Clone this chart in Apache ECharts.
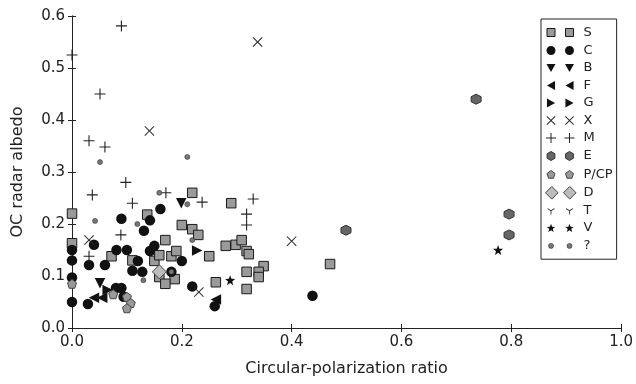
<!DOCTYPE html>
<html><head><meta charset="utf-8">
<script src="https://cdn.jsdelivr.net/npm/echarts@6/dist/echarts.min.js"></script>
<style>html,body{margin:0;padding:0;background:#fff}#c{width:636px;height:384px}</style>
</head><body><div id="c"></div>
<script>
// ---- data ----
const seriesNames = ['S','C','B','F','G','X','M','E','P/CP','D','T','V','?'];
const xTicks = [0, 0.2, 0.4, 0.6, 0.8, 1.0];
const yTicks = [0, 0.1, 0.2, 0.3, 0.4, 0.5, 0.6];

const dataS = [[0.0,0.22],[0.0,0.163],[0.137,0.218],[0.219,0.26],[0.29,0.24],[0.20,0.198],[0.219,0.19],
  [0.23,0.179],[0.17,0.169],[0.072,0.138],[0.11,0.13],[0.15,0.129],[0.159,0.140],[0.181,0.138],[0.19,0.148],
  [0.159,0.098],[0.187,0.094],[0.170,0.085],[0.25,0.138],[0.28,0.158],[0.298,0.160],[0.309,0.169],
  [0.318,0.148],[0.322,0.142],[0.349,0.119],[0.340,0.108],[0.340,0.098],[0.318,0.108],[0.262,0.088],
  [0.318,0.075],[0.47,0.123]];
const dataC = [[0.0,0.15],[0.0,0.13],[0.0,0.097],[0.0,0.05],[0.09,0.21],[0.142,0.207],[0.161,0.229],
  [0.131,0.187],[0.04,0.16],[0.081,0.15],[0.10,0.15],[0.142,0.148],[0.15,0.158],[0.031,0.121],[0.06,0.121],
  [0.12,0.129],[0.11,0.11],[0.128,0.108],[0.20,0.129],[0.181,0.108],[0.219,0.08],[0.08,0.077],[0.09,0.077],
  [0.094,0.06],[0.029,0.046],[0.26,0.042],[0.438,0.062]];
const dataB = [[0.199,0.24],[0.051,0.086]];
const dataF = [[0.04,0.058],[0.055,0.058],[0.262,0.055]];
const dataG = [[0.228,0.149],[0.065,0.073]];
const dataX = [[0.338,0.55],[0.141,0.379],[0.031,0.169],[0.40,0.167],[0.231,0.069]];
const dataM = [[0.09,0.581],[0.0,0.525],[0.051,0.45],[0.031,0.36],[0.06,0.348],[0.098,0.28],[0.037,0.256],
  [0.11,0.24],[0.171,0.26],[0.237,0.242],[0.33,0.248],[0.318,0.219],[0.318,0.198],[0.089,0.179],[0.031,0.138]];
const dataE = [[0.736,0.44],[0.499,0.188],[0.796,0.219],[0.796,0.179]];
const dataP = [[0.0,0.085],[0.075,0.065],[0.10,0.06],[0.107,0.048],[0.10,0.038]];
const dataD = [[0.159,0.108]];
const dataT = [];
const dataV = [[0.288,0.092],[0.776,0.15]];
const dataQ = [[0.051,0.319],[0.21,0.329],[0.159,0.26],[0.21,0.238],[0.042,0.206],[0.119,0.2],
  [0.219,0.169],[0.13,0.092],[0.181,0.108]];

// ---- styling ----
const FONT = 'DejaVu Sans';
const shapes = {
  square: [[0,0],[1,0],[1,1],[0,1]],
  triDown: [[0,0.05],[1,0.05],[0.5,0.95]],
  triLeft: [[0.95,0],[0.95,1],[0.05,0.5]],
  triRight: [[0.05,0],[0.05,1],[0.95,0.5]],
  cross: [[0,0.07],[0.07,0],[0.5,0.43],[0.93,0],[1,0.07],[0.57,0.5],[1,0.93],[0.93,1],[0.5,0.57],[0.07,1],[0,0.93],[0.43,0.5]],
  plus: [[0.45,0],[0.55,0],[0.55,0.45],[1,0.45],[1,0.55],[0.55,0.55],[0.55,1],[0.45,1],[0.45,0.55],[0,0.55],[0,0.45],[0.45,0.45]],
  hexagon: [[0.5,0],[0.933,0.25],[0.933,0.75],[0.5,1],[0.067,0.75],[0.067,0.25]],
  pentagon: [[0.5,0],[1,0.38],[0.81,0.97],[0.19,0.97],[0,0.38]],
  diamond: [[0.5,0],[1,0.5],[0.5,1],[0,0.5]],
  star: [[0.5,0.02],[0.623,0.35],[0.976,0.365],[0.70,0.585],[0.794,0.925],[0.5,0.73],[0.206,0.925],[0.30,0.585],[0.024,0.365],[0.377,0.35]],
  tri: [[0.45,0.55],[0.45,1],[0.55,1],[0.55,0.55],[0.95,0.3],[0.9,0.22],[0.5,0.47],[0.1,0.22],[0.05,0.3]]
};
function polyPath(pts, s, cx, cy) {
  return pts.map((p, i) => (i ? 'L' : 'M') + (cx + (p[0] - 0.5) * s).toFixed(2) + ',' + (cy + (p[1] - 0.5) * s).toFixed(2)).join(' ') + ' Z ';
}
function circlePath(s, cx, cy) {
  const r = s / 2;
  return `M${cx - r},${cy} A${r},${r} 0 1,1 ${cx + r},${cy} A${r},${r} 0 1,1 ${cx - r},${cy} Z `;
}
function shapePath(shape, s, cx, cy) {
  return shape === 'circle' ? circlePath(s, cx, cy) : polyPath(shapes[shape], s, cx, cy);
}
const IW = 33, IH = 14;
function legendIcon(shape, s) {
  return 'path://M0,0 L0,0 M' + IW + ',' + IH + ' L' + IW + ',' + IH + ' ' +
    shapePath(shape, s, 5.5, IH / 2) + shapePath(shape, s, 24, IH / 2);
}
const styles = {
  'S': {shape: 'square', size: 9.5, lsize: 8, color: '#9a9a9a', border: '#1a1a1a', bw: 1},
  'C': {shape: 'circle', size: 10.5, lsize: 9, color: '#111', border: '#111', bw: 0},
  'B': {shape: 'triDown', size: 10.5, lsize: 9, color: '#111', border: '#111', bw: 0},
  'F': {shape: 'triLeft', size: 10.5, lsize: 9, color: '#111', border: '#111', bw: 0},
  'G': {shape: 'triRight', size: 10.5, lsize: 9, color: '#111', border: '#111', bw: 0},
  'X': {shape: 'cross', size: 10, lsize: 9, color: '#222', border: '#222', bw: 0},
  'M': {shape: 'plus', size: 11, lsize: 10, color: '#222', border: '#222', bw: 0},
  'E': {shape: 'hexagon', size: 10, lsize: 9, color: '#666', border: '#333', bw: 1},
  'P/CP': {shape: 'pentagon', size: 9, lsize: 8, color: '#999', border: '#444', bw: 1},
  'D': {shape: 'diamond', size: 14, lsize: 13, color: '#bdbdbd', border: '#444', bw: 1},
  'T': {shape: 'tri', size: 10, lsize: 8, color: '#222', border: '#222', bw: 0},
  'V': {shape: 'star', size: 10, lsize: 9, color: '#111', border: '#111', bw: 0},
  '?': {shape: 'circle', size: 5, lsize: 5, color: '#777', border: '#333', bw: 0.6}
};
const seriesData = [dataS, dataC, dataB, dataF, dataG, dataX, dataM, dataE, dataP, dataD, dataT, dataV, dataQ];

const series = seriesNames.map((name, i) => {
  const st = styles[name];
  return {
    name, type: 'scatter', data: seriesData[i],
    symbol: st.shape === 'circle' ? 'circle' : 'path://' + polyPath(shapes[st.shape], 10, 5, 5),
    symbolSize: st.size,
    itemStyle: {color: st.color, borderColor: st.border, borderWidth: st.bw, opacity: 1},
    emphasis: {disabled: true},
    z: 2 + i * 0.01
  };
});
const legendData = seriesNames.map(name => {
  const st = styles[name];
  return {name, icon: legendIcon(st.shape, st.lsize),
    itemStyle: {color: st.color, borderColor: st.border, borderWidth: st.bw, opacity: 1}};
});

const axisCommon = {
  type: 'value',
  axisLine: {show: true, lineStyle: {color: '#222', width: 1}},
  axisTick: {show: true, inside: true, length: 4, lineStyle: {color: '#222'}},
  splitLine: {show: false}
};
const option = {
  animation: false,
  backgroundColor: '#fff',
  grid: {left: 72, right: 11, top: 16, bottom: 56, containLabel: false},
  xAxis: [
    Object.assign({}, axisCommon, {min: xTicks[0], max: xTicks[xTicks.length - 1], interval: 0.2, position: 'bottom',
      name: 'Circular-polarization ratio', nameLocation: 'middle', nameGap: 33,
      nameTextStyle: {fontSize: 16, color: '#222', fontFamily: FONT},
      axisLabel: {formatter: v => v.toFixed(1), color: '#222', fontSize: 15, margin: 7, fontFamily: FONT}}),
    Object.assign({}, axisCommon, {min: xTicks[0], max: xTicks[xTicks.length - 1], interval: 0.2, position: 'top',
      axisLabel: {show: false}})
  ],
  yAxis: [
    Object.assign({}, axisCommon, {min: yTicks[0], max: yTicks[yTicks.length - 1], interval: 0.1, position: 'left',
      name: 'OC radar albedo', nameLocation: 'middle', nameGap: 46,
      nameTextStyle: {fontSize: 16, color: '#222', fontFamily: FONT},
      axisLabel: {formatter: v => v.toFixed(1), color: '#222', fontSize: 15, margin: 7, fontFamily: FONT}}),
    Object.assign({}, axisCommon, {min: yTicks[0], max: yTicks[yTicks.length - 1], interval: 0.1, position: 'right',
      axisLabel: {show: false}})
  ],
  legend: {
    orient: 'vertical', left: 541, top: 19,
    padding: [6, 4, 6, 4], itemWidth: IW, itemHeight: IH, itemGap: 3.5,
    borderColor: '#222', borderWidth: 1, backgroundColor: '#fff',
    selectedMode: false,
    textStyle: {fontSize: 13, color: '#222', fontFamily: FONT},
    data: legendData
  },
  series
};
const chart = echarts.init(document.getElementById('c'), null, {renderer: 'canvas'});
chart.setOption(option);
</script></body></html>
